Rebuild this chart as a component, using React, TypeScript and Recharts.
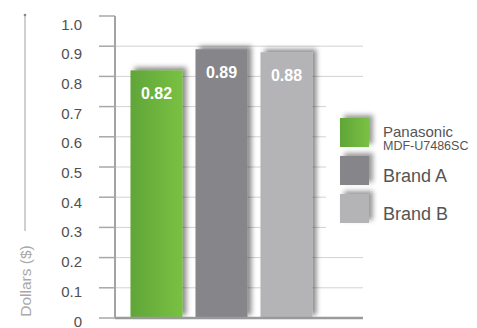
import { BarChart, Bar, XAxis, YAxis, CartesianGrid, ReferenceLine, LabelList, Cell } from "recharts";

// data
const brands = ["Panasonic MDF-U7486SC", "Brand A", "Brand B"];
const costs = [0.82, 0.89, 0.88];
const yTicks = [0, 0.1, 0.2, 0.3, 0.4, 0.5, 0.6, 0.7, 0.8, 0.9, 1.0];
const gridValues = [0.1, 0.2, 0.3, 0.4, 0.5, 0.6, 0.7, 0.8, 0.9];
const legendLines = [["Panasonic", "MDF-U7486SC"], ["Brand A"], ["Brand B"]];

const FILLS = ["url(#panaGreen)", "#86858a", "#b4b4b6"];
const FONT = "'Liberation Sans', Arial, Helvetica, sans-serif";

const chartData = brands.map((name, i) => ({ name, cost: costs[i] }));

const YTick = (props: any) => {
  const { x, y, payload } = props;
  const v = payload.value as number;
  // labels in the original sit a little below their ticks, more so near the top
  return (
    <text x={x} y={y + 3 + 5 * v} textAnchor="end" dominantBaseline="central" fontSize={15} fill="#505050" fontFamily={FONT}>
      {v === 0 ? "0" : v.toFixed(1)}
    </text>
  );
};

const BarLabel = (props: any) => {
  const { x, y, width, value } = props;
  return (
    <text x={x + width / 2} y={y + 23} textAnchor="middle" dominantBaseline="central" fontSize={16} fontWeight="bold" fill="#fff" fontFamily={FONT}>
      {Number(value).toFixed(2)}
    </text>
  );
};

const ShadowBar = (props: any) => {
  const { x, y, width, height, fill } = props;
  return <rect x={x} y={y} width={width} height={height} fill={fill} filter="url(#barShadow)" />;
};

export default function App() {
  return (
    <div style={{ position: "absolute", left: 0, top: 0, width: 477, height: 328, background: "#fff" }}>
      <BarChart width={477} height={328} data={chartData} margin={{ top: 16, right: 114, bottom: 10, left: 0 }}>
        <defs>
          <linearGradient id="panaGreen" x1="0" y1="0" x2="1" y2="0">
            <stop offset="0%" stopColor="#60a538" />
            <stop offset="100%" stopColor="#79c143" />
          </linearGradient>
          <filter id="barShadow" x="-30%" y="-30%" width="160%" height="160%">
            <feDropShadow dx={4} dy={-3} stdDeviation={2.5} floodColor="#000" floodOpacity={0.45} />
          </filter>
        </defs>
        <CartesianGrid vertical={false} horizontalValues={gridValues} stroke="#d2d2d2" />
        <XAxis dataKey="name" hide padding={{ left: 8.5, right: 44.5 }} />
        <YAxis
          width={115}
          domain={[0, 1]}
          ticks={yTicks}
          interval={0}
          tickSize={16}
          tickMargin={17}
          tick={<YTick />}
          axisLine={{ stroke: "#a3a3a3", strokeWidth: 2 }}
          tickLine={{ stroke: "#a8a8a8", strokeWidth: 1.5 }}
        />
        <ReferenceLine y={0} stroke="#9a9a9a" strokeWidth={2.5} />
        <Bar dataKey="cost" barSize={52} isAnimationActive={false} shape={<ShadowBar />}>
          {chartData.map((_, i) => (
            <Cell key={i} fill={FILLS[i]} />
          ))}
          <LabelList dataKey="cost" content={<BarLabel />} />
        </Bar>
      </BarChart>

      {/* axis title and legend */}
      <svg width={477} height={328} style={{ position: "absolute", left: 0, top: 0, pointerEvents: "none" }}>
        <defs>
          <filter id="swatchShadow" x="-30%" y="-30%" width="160%" height="160%">
            <feDropShadow dx={4} dy={-3} stdDeviation={2.5} floodColor="#000" floodOpacity={0.4} />
          </filter>
        </defs>
        <line x1={25} y1={15} x2={25} y2={231} stroke="#a0a0a0" strokeWidth={1} />
        <circle cx={25} cy={15} r={1.3} fill="#888" />
        <text
          x={25}
          y={281}
          transform="rotate(-90 25 281)"
          textAnchor="middle"
          dominantBaseline="central"
          fontSize={15.5}
          fill="#a8a8a8"
          fontFamily={FONT}
        >
          Dollars ($)
        </text>

        <rect x={326} y={96} width={151} height={138} fill="#fff" />
        {legendLines.map((lines, i) => {
          const top = 118 + i * 38;
          return (
            <g key={i}>
              <rect x={340} y={top} width={29} height={29} fill={FILLS[i]} filter="url(#swatchShadow)" />
              {lines.length > 1 ? (
                <>
                  <text x={383} y={top + 19} fontSize={15} fill="#555" fontFamily={FONT}>
                    {lines[0]}
                  </text>
                  <text x={383} y={top + 32} fontSize={12.5} fill="#555" fontFamily={FONT}>
                    {lines[1]}
                  </text>
                </>
              ) : (
                <text x={383} y={top + 26} fontSize={18} fill="#555" fontFamily={FONT}>
                  {lines[0]}
                </text>
              )}
            </g>
          );
        })}
      </svg>
    </div>
  );
}
